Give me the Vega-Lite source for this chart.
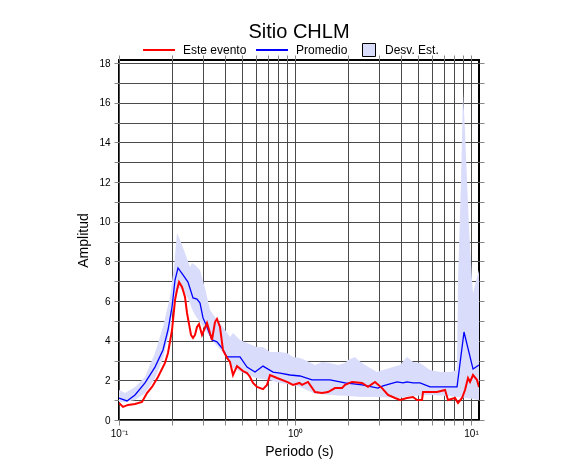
{
  "$schema": "https://vega.github.io/schema/vega-lite/v6.json",
  "width": 360,
  "height": 360,
  "autosize": {"type": "none"},
  "padding": {"left": 119, "top": 60, "right": 107, "bottom": 55},
  "background": "white",
  "title": {"text": "Sitio CHLM", "fontSize": 20, "font": "Liberation Sans", "fontWeight": "normal", "anchor": "middle", "offset": -9, "color": "black"},
  "config": {
    "view": {"stroke": "black", "strokeWidth": 2},
    "font": "Liberation Sans",
    "axis": {"domain": false, "labelFont": "Liberation Sans", "labelFontSize": 10, "labelColor": "black", "tickColor": "#888888", "tickSize": 5, "tickWidth": 1, "titleFont": "Liberation Sans", "titleFontSize": 14, "titleFontWeight": "normal", "titleColor": "black", "gridColor": "#4a4a4a", "gridOpacity": 1, "gridWidth": 1},
    "legend": {"labelFont": "Liberation Sans", "labelFontSize": 12, "labelColor": "black", "title": null}
  },
  "datasets": {
    "band": [
      {"p":0.1,"hi":1.51,"lo":0.91},{"p":0.1082,"hi":1.36,"lo":0.91},{"p":0.1233,"hi":1.67,"lo":1.01},{"p":0.1405,"hi":2.17,"lo":1.35},{"p":0.1601,"hi":3.38,"lo":2.1},{"p":0.1778,"hi":4.69,"lo":3.1},{"p":0.1949,"hi":6.21,"lo":4.54},{"p":0.2054,"hi":7.72,"lo":6.0},{"p":0.2136,"hi":9.43,"lo":6.56},{"p":0.2222,"hi":9.08,"lo":6.66},{"p":0.2371,"hi":8.43,"lo":6.4},{"p":0.2531,"hi":7.72,"lo":5.9},{"p":0.2598,"hi":7.92,"lo":5.6},{"p":0.2703,"hi":7.82,"lo":5.3},{"p":0.2774,"hi":7.72,"lo":5.15},{"p":0.2886,"hi":7.57,"lo":4.94},{"p":0.308,"hi":6.66,"lo":4.55},{"p":0.3289,"hi":5.55,"lo":4.2},{"p":0.3511,"hi":5.2,"lo":3.85},{"p":0.3898,"hi":4.69,"lo":3.4},{"p":0.4272,"hi":4.19,"lo":2.85},{"p":0.4443,"hi":4.39,"lo":2.62},{"p":0.487,"hi":4.04,"lo":2.45},{"p":0.5337,"hi":3.88,"lo":2.3},{"p":0.6083,"hi":3.68,"lo":2.1},{"p":0.6579,"hi":3.68,"lo":2.05},{"p":0.721,"hi":3.43,"lo":2.0},{"p":0.8217,"hi":3.43,"lo":1.87},{"p":0.9006,"hi":3.38,"lo":1.82},{"p":0.9741,"hi":3.18,"lo":1.77},{"p":1.0676,"hi":3.13,"lo":1.67},{"p":1.1397,"hi":3.03,"lo":1.55},{"p":1.299,"hi":2.77,"lo":1.33},{"p":1.4236,"hi":2.93,"lo":1.3},{"p":1.5808,"hi":2.88,"lo":1.26},{"p":1.7551,"hi":2.77,"lo":1.24},{"p":1.9233,"hi":2.88,"lo":1.22},{"p":2.0003,"hi":3.03,"lo":1.21},{"p":2.1927,"hi":3.18,"lo":1.18},{"p":2.2803,"hi":3.03,"lo":1.17},{"p":2.499,"hi":2.77,"lo":1.16},{"p":2.9236,"hi":2.42,"lo":1.16},{"p":3.1623,"hi":2.52,"lo":1.15},{"p":3.6043,"hi":2.67,"lo":1.12},{"p":3.9502,"hi":2.77,"lo":1.12},{"p":4.3288,"hi":3.18,"lo":1.18},{"p":4.6827,"hi":2.93,"lo":1.21},{"p":5.1317,"hi":2.88,"lo":1.24},{"p":5.8479,"hi":2.52,"lo":1.26},{"p":6.667,"hi":2.42,"lo":1.24},{"p":7.5982,"hi":2.42,"lo":1.2},{"p":8.3266,"hi":2.52,"lo":1.16},{"p":8.4359,"hi":7.06,"lo":1.16},{"p":8.7729,"hi":12.1,"lo":1.15},{"p":9.0052,"hi":16.5,"lo":1.14},{"p":9.2434,"hi":14.6,"lo":1.12},{"p":9.4885,"hi":12.1,"lo":1.11},{"p":9.75,"hi":9.6,"lo":1.09},{"p":10.1317,"hi":7.06,"lo":1.07},{"p":10.2657,"hi":6.4,"lo":1.06},{"p":10.6,"hi":6.9,"lo":1.04},{"p":11.1,"hi":7.57,"lo":1.01}
    ],
    "lines": [
      {"p":0.1,"a":1.11,"s":"Promedio"},{"p":0.111,"a":0.96,"s":"Promedio"},{"p":0.1233,"a":1.26,"s":"Promedio"},{"p":0.1405,"a":1.87,"s":"Promedio"},{"p":0.1601,"a":2.67,"s":"Promedio"},{"p":0.1778,"a":3.53,"s":"Promedio"},{"p":0.1898,"a":4.54,"s":"Promedio"},{"p":0.2001,"a":5.7,"s":"Promedio"},{"p":0.2081,"a":7.06,"s":"Promedio"},{"p":0.2164,"a":7.67,"s":"Promedio"},{"p":0.231,"a":7.32,"s":"Promedio"},{"p":0.2466,"a":6.96,"s":"Promedio"},{"p":0.2633,"a":6.16,"s":"Promedio"},{"p":0.2774,"a":6.1,"s":"Promedio"},{"p":0.2886,"a":5.9,"s":"Promedio"},{"p":0.3001,"a":5.15,"s":"Promedio"},{"p":0.3162,"a":4.69,"s":"Promedio"},{"p":0.3376,"a":4.04,"s":"Promedio"},{"p":0.3604,"a":3.94,"s":"Promedio"},{"p":0.3847,"a":3.63,"s":"Promedio"},{"p":0.4108,"a":3.18,"s":"Promedio"},{"p":0.4443,"a":3.18,"s":"Promedio"},{"p":0.487,"a":3.18,"s":"Promedio"},{"p":0.5337,"a":2.67,"s":"Promedio"},{"p":0.5926,"a":2.42,"s":"Promedio"},{"p":0.6579,"a":2.72,"s":"Promedio"},{"p":0.7499,"a":2.42,"s":"Promedio"},{"p":0.8217,"a":2.37,"s":"Promedio"},{"p":0.9367,"a":2.27,"s":"Promedio"},{"p":1.0676,"a":2.22,"s":"Promedio"},{"p":1.249,"a":2.02,"s":"Promedio"},{"p":1.5808,"a":2.02,"s":"Promedio"},{"p":1.9233,"a":1.87,"s":"Promedio"},{"p":2.403,"a":1.77,"s":"Promedio"},{"p":2.9622,"a":1.61,"s":"Promedio"},{"p":3.1623,"a":1.72,"s":"Promedio"},{"p":3.4657,"a":1.82,"s":"Promedio"},{"p":3.7983,"a":1.92,"s":"Promedio"},{"p":4.1081,"a":1.87,"s":"Promedio"},{"p":4.3288,"a":1.92,"s":"Promedio"},{"p":4.6827,"a":1.87,"s":"Promedio"},{"p":5.1317,"a":1.87,"s":"Promedio"},{"p":5.8479,"a":1.67,"s":"Promedio"},{"p":8.3266,"a":1.67,"s":"Promedio"},{"p":9.1236,"a":4.44,"s":"Promedio"},{"p":10.2657,"a":2.57,"s":"Promedio"},{"p":11.1,"a":2.77,"s":"Promedio"},
      {"p":0.1,"a":0.86,"s":"Este evento"},{"p":0.1054,"a":0.66,"s":"Este evento"},{"p":0.1125,"a":0.76,"s":"Este evento"},{"p":0.1233,"a":0.81,"s":"Este evento"},{"p":0.1351,"a":0.91,"s":"Este evento"},{"p":0.1442,"a":1.36,"s":"Este evento"},{"p":0.154,"a":1.67,"s":"Este evento"},{"p":0.1665,"a":2.17,"s":"Este evento"},{"p":0.1825,"a":2.88,"s":"Este evento"},{"p":0.1898,"a":3.38,"s":"Este evento"},{"p":0.2001,"a":4.54,"s":"Este evento"},{"p":0.2081,"a":6.05,"s":"Este evento"},{"p":0.2136,"a":6.56,"s":"Este evento"},{"p":0.2193,"a":6.96,"s":"Este evento"},{"p":0.228,"a":6.71,"s":"Este evento"},{"p":0.2371,"a":6.21,"s":"Este evento"},{"p":0.2434,"a":5.4,"s":"Este evento"},{"p":0.2565,"a":4.29,"s":"Este evento"},{"p":0.2633,"a":4.14,"s":"Este evento"},{"p":0.2703,"a":4.29,"s":"Este evento"},{"p":0.2774,"a":4.69,"s":"Este evento"},{"p":0.2848,"a":4.84,"s":"Este evento"},{"p":0.2962,"a":4.29,"s":"Este evento"},{"p":0.3162,"a":4.89,"s":"Este evento"},{"p":0.3376,"a":4.04,"s":"Este evento"},{"p":0.3511,"a":4.94,"s":"Este evento"},{"p":0.3604,"a":5.1,"s":"Este evento"},{"p":0.3748,"a":4.69,"s":"Este evento"},{"p":0.3898,"a":3.53,"s":"Este evento"},{"p":0.4108,"a":3.13,"s":"Este evento"},{"p":0.4272,"a":2.93,"s":"Este evento"},{"p":0.4443,"a":2.27,"s":"Este evento"},{"p":0.4682,"a":2.72,"s":"Este evento"},{"p":0.5064,"a":2.47,"s":"Este evento"},{"p":0.5337,"a":2.37,"s":"Este evento"},{"p":0.555,"a":2.17,"s":"Este evento"},{"p":0.5772,"a":1.87,"s":"Este evento"},{"p":0.6083,"a":1.67,"s":"Este evento"},{"p":0.6579,"a":1.56,"s":"Este evento"},{"p":0.6932,"a":1.77,"s":"Este evento"},{"p":0.721,"a":2.27,"s":"Este evento"},{"p":0.7902,"a":2.12,"s":"Este evento"},{"p":0.9006,"a":1.92,"s":"Este evento"},{"p":0.9741,"a":1.77,"s":"Este evento"},{"p":1.06,"a":1.87,"s":"Este evento"},{"p":1.0959,"a":1.77,"s":"Este evento"},{"p":1.1854,"a":1.92,"s":"Este evento"},{"p":1.299,"a":1.41,"s":"Este evento"},{"p":1.4236,"a":1.36,"s":"Este evento"},{"p":1.5399,"a":1.41,"s":"Este evento"},{"p":1.6877,"a":1.61,"s":"Este evento"},{"p":1.8493,"a":1.61,"s":"Este evento"},{"p":1.9233,"a":1.77,"s":"Este evento"},{"p":2.1084,"a":1.92,"s":"Este evento"},{"p":2.403,"a":1.87,"s":"Este evento"},{"p":2.5994,"a":1.67,"s":"Este evento"},{"p":2.848,"a":1.92,"s":"Este evento"},{"p":3.1214,"a":1.61,"s":"Este evento"},{"p":3.3763,"a":1.26,"s":"Este evento"},{"p":3.7,"a":1.11,"s":"Este evento"},{"p":3.9502,"a":1.01,"s":"Este evento"},{"p":4.3288,"a":1.11,"s":"Este evento"},{"p":4.6827,"a":1.16,"s":"Este evento"},{"p":4.9344,"a":1.01,"s":"Este evento"},{"p":5.2676,"a":1.01,"s":"Este evento"},{"p":5.337,"a":1.41,"s":"Este evento"},{"p":5.8479,"a":1.41,"s":"Este evento"},{"p":6.41,"a":1.41,"s":"Este evento"},{"p":7.1177,"a":1.51,"s":"Este evento"},{"p":7.4014,"a":1.01,"s":"Este evento"},{"p":8.1111,"a":1.11,"s":"Este evento"},{"p":8.4359,"a":0.86,"s":"Este evento"},{"p":8.8883,"a":1.11,"s":"Este evento"},{"p":9.2434,"a":1.51,"s":"Este evento"},{"p":9.6132,"a":2.12,"s":"Este evento"},{"p":9.8697,"a":1.92,"s":"Este evento"},{"p":10.2657,"a":2.27,"s":"Este evento"},{"p":10.818,"a":2.02,"s":"Este evento"},{"p":11.1,"a":1.67,"s":"Este evento"}
    ]
  },
  "resolve": {"axis": {"x": "independent", "y": "independent"}},
  "layer": [
    {
      "data": {"name": "band"},
      "mark": {"type": "area", "blend": "multiply", "clip": true},
      "encoding": {
        "x": {"field": "p", "type": "quantitative", "scale": {"type": "log", "domain": [0.1, 11.1], "nice": false},
              "axis": {"title": "Periodo (s)", "values": [0.1,0.2,0.3,0.4,0.5,0.6,0.7,0.8,0.9,1,2,3,4,5,6,7,8,9,10], "labelExpr": "datum.value === 0.1 ? '10⁻¹' : datum.value === 1 ? '10⁰' : datum.value === 10 ? '10¹' : ''", "labelFlush": false, "labelOverlap": false, "grid": true, "labelPadding": 3, "titlePadding": 6}},
        "y": {"field": "hi", "type": "quantitative", "scale": {"domain": [0, 18.16], "nice": false, "zero": false},
              "axis": {"title": "Amplitud", "values": [0,1,2,3,4,5,6,7,8,9,10,11,12,13,14,15,16,17,18], "labelExpr": "datum.value % 2 === 0 ? datum.label : ''", "grid": true, "labelPadding": 4, "titlePadding": 8}},
        "y2": {"field": "lo"},
        "fill": {"datum": "Desv. Est.", "type": "nominal", "scale": {"domain": ["Desv. Est."], "range": ["#d9dcfa"]},
                 "legend": {"orient": "none", "legendX": 243, "legendY": -17, "direction": "horizontal", "symbolType": "square", "symbolSize": 169, "symbolStrokeColor": "black", "symbolStrokeWidth": 1, "labelOffset": 9}}
      }
    },
    {
      "data": {"name": "lines"},
      "transform": [{"filter": "datum.s === 'Promedio'"}],
      "mark": {"type": "line", "strokeWidth": 1.3, "clip": true},
      "encoding": {
        "x": {"field": "p", "type": "quantitative", "axis": {"orient": "top", "title": null, "labels": false, "grid": false, "values": [0.1,0.2,0.3,0.4,0.5,0.6,0.7,0.8,0.9,1,2,3,4,5,6,7,8,9,10], "tickSize": 5}},
        "y": {"field": "a", "type": "quantitative", "axis": {"orient": "right", "title": null, "labels": false, "grid": false, "values": [0,1,2,3,4,5,6,7,8,9,10,11,12,13,14,15,16,17,18], "tickSize": 5}},
        "stroke": {"field": "s", "type": "nominal", "scale": {"domain": ["Este evento", "Promedio"], "range": ["#ff0000", "#0000ff"]},
                   "legend": {"orient": "none", "legendX": 23, "legendY": -27, "direction": "horizontal", "symbolType": "stroke", "symbolSize": 1024, "symbolStrokeWidth": 2, "labelOffset": 7, "columnPadding": 5}}
      }
    },
    {
      "data": {"name": "lines"},
      "transform": [{"filter": "datum.s === 'Este evento'"}],
      "mark": {"type": "line", "strokeWidth": 2, "clip": true},
      "encoding": {
        "x": {"field": "p", "type": "quantitative", "axis": null},
        "y": {"field": "a", "type": "quantitative", "axis": null},
        "stroke": {"field": "s", "type": "nominal"}
      }
    }
  ]
}
